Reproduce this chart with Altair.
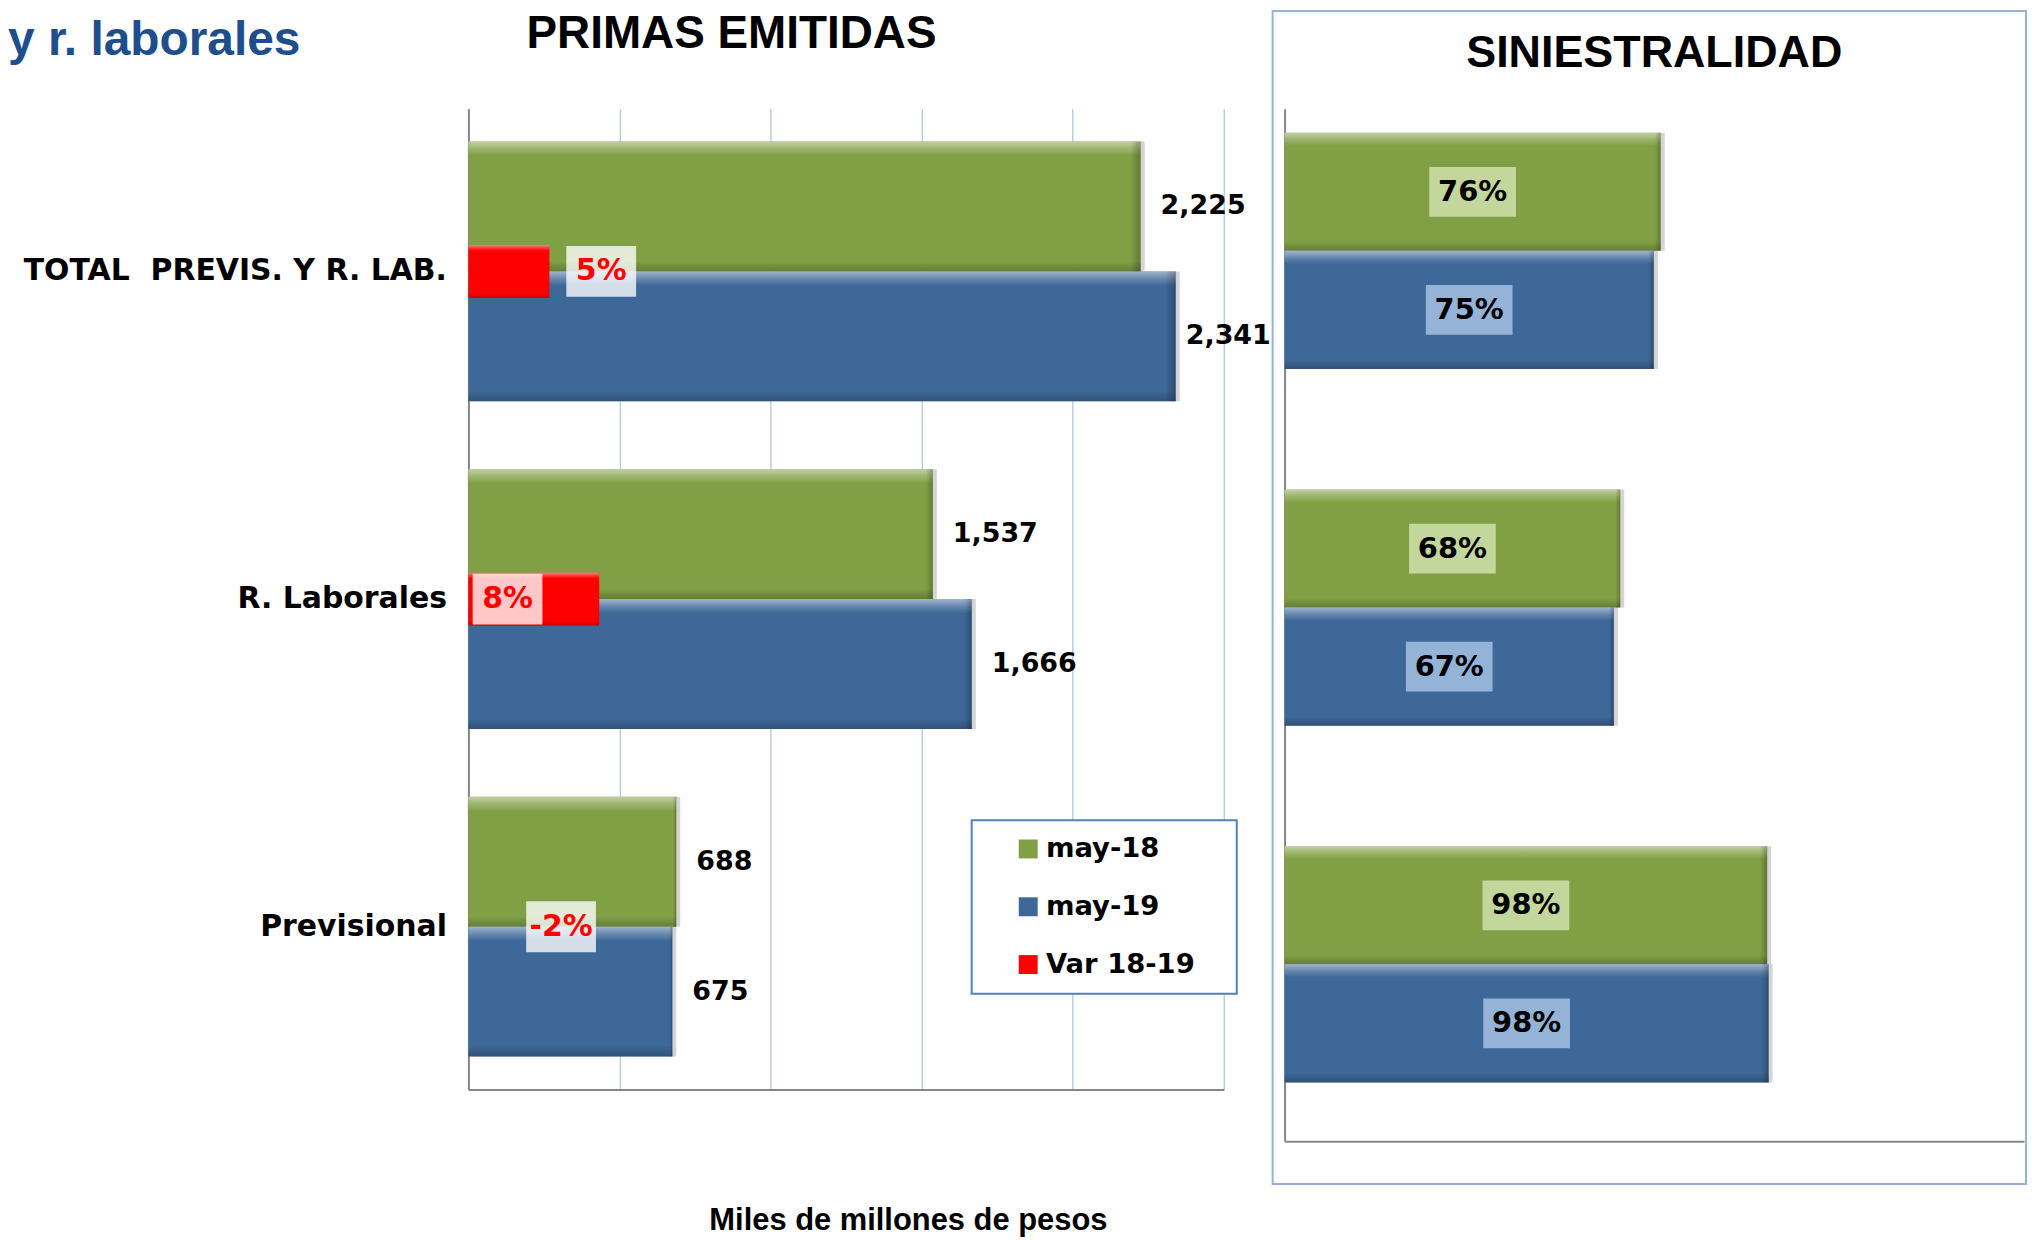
import altair as alt
import pandas as pd

# ---------------- data ----------------
header = "y r. laborales"
title_left = "PRIMAS EMITIDAS"
title_right = "SINIESTRALIDAD"
x_title = "Miles de millones de pesos"

categories = ["TOTAL\u00a0 PREVIS. Y R. LAB.", "R. Laborales", "Previsional"]
series = ["may-18", "may-19"]
var_name = "Var 18-19"
primas_may18 = [2225, 1537, 688]
primas_may19 = [2341, 1666, 675]
var_18_19 = [0.052, 0.084, -0.019]
sin_may18 = [0.763, 0.681, 0.979]
sin_may19 = [0.749, 0.668, 0.982]
grid_ticks = [0, 500, 1000, 1500, 2000, 2500]

primas = pd.DataFrame(
    [{"cat": c, "serie": "may-18", "value": v} for c, v in zip(categories, primas_may18)]
    + [{"cat": c, "serie": "may-19", "value": v} for c, v in zip(categories, primas_may19)]
)
var_df = pd.DataFrame([{"cat": c, "serie": var_name, "value": v} for c, v in zip(categories, var_18_19)])
sin = pd.DataFrame(
    [{"cat": c, "serie": "may-18", "value": v} for c, v in zip(categories, sin_may18)]
    + [{"cat": c, "serie": "may-19", "value": v} for c, v in zip(categories, sin_may19)]
)

# ---------------- styles ----------------
GREEN = "#81A045"
BLUE = "#3E6898"
RED = "#FF0000"
DV = "DejaVu Sans"
LIB = "Liberation Sans"
AXIS_GRAY = "#868686"

color_scale = alt.Scale(domain=series + [var_name], range=[GREEN, BLUE, RED])

bevel_v = alt.LinearGradient(
    gradient="linear", x1=0, x2=0, y1=0, y2=1,
    stops=[
        alt.GradientStop(offset=0, color="rgba(255,255,255,0.5)"),
        alt.GradientStop(offset=0.06, color="rgba(255,255,255,0.2)"),
        alt.GradientStop(offset=0.11, color="rgba(255,255,255,0)"),
        alt.GradientStop(offset=0.92, color="rgba(0,0,0,0)"),
        alt.GradientStop(offset=1, color="rgba(0,0,0,0.22)"),
    ],
)
bevel_h = alt.LinearGradient(
    gradient="linear", x1=0, x2=1, y1=0, y2=0,
    stops=[
        alt.GradientStop(offset=0, color="rgba(0,0,0,0)"),
        alt.GradientStop(offset=0.985, color="rgba(0,0,0,0)"),
        alt.GradientStop(offset=1, color="rgba(0,0,0,0.25)"),
    ],
)
SHADOW = dict(fill="rgba(0,0,0,0.17)", strokeWidth=0, yOffset=10, y2Offset=10, xOffset=4, x2Offset=4)


def box_path(w, h, dx=0):
    return f"M{dx - w / 2},{-h / 2}H{dx + w / 2}V{h / 2}H{dx - w / 2}Z"


pct_label = "replace(format(datum.value, '.0%'), '\u2212', '-')"

# ---------------- left panel: PRIMAS EMITIDAS ----------------
y_left = alt.Y(
    "cat:N", sort=categories,
    scale=alt.Scale(paddingInner=0.207, paddingOuter=0.1),
    axis=alt.Axis(title=None, labelFont=DV, labelFontSize=30, labelFontWeight="bold",
                  labelColor="black", labelPadding=22, ticks=False, labelLimit=700,
                  domainColor=AXIS_GRAY, domainWidth=2),
)
yoff = alt.YOffset("serie:N", sort=series, scale=alt.Scale(paddingInner=0, paddingOuter=0))
x_left = alt.X(
    "value:Q", scale=alt.Scale(domain=[0, 2500], nice=False),
    axis=alt.Axis(values=grid_ticks, labels=False, ticks=False, grid=True,
                  gridColor="#B9CDE5", gridWidth=1.5, domainColor=AXIS_GRAY, domainWidth=2,
                  title=x_title, titleFont=LIB, titleFontSize=31, titleFontWeight="bold",
                  titleColor="black", titleX=441, titleY=132, titleAlign="center",
                  titleBaseline="middle"),
)

legend = alt.Legend(
    orient="none", legendX=505, legendY=714, direction="vertical",
    title="\u00a0", titleOrient="right", titleFontSize=2, titlePadding=27,
    strokeColor="#4F81BD", fillColor="white", padding=15,
    symbolType="square", symbolSize=361, symbolStrokeWidth=0, symbolOffset=28,
    labelFont=DV, labelFontSize=27.5, labelFontWeight="bold", labelColor="black",
    labelOffset=4, rowPadding=29, labelLimit=400,
)

base_left = alt.Chart(primas)
shadow_left = base_left.mark_bar(**SHADOW).encode(x=x_left, y=y_left, yOffset=yoff)
bars_left = base_left.mark_bar(stroke=None).encode(
    x=x_left, y=y_left, yOffset=yoff,
    color=alt.Color("serie:N", scale=color_scale, legend=legend),
)
bev_left = base_left.mark_bar(fill=bevel_v, strokeWidth=0).encode(x=x_left, y=y_left, yOffset=yoff)
bevh_left = base_left.mark_bar(fill=bevel_h, strokeWidth=0).encode(x=x_left, y=y_left, yOffset=yoff)
label_style = dict(align="left", baseline="middle", font=DV, fontSize=27, fontWeight="bold", color="black")
labels_left = base_left.transform_filter("datum.value < 2300").mark_text(dx=20, **label_style).encode(
    x=x_left, y=y_left, yOffset=yoff, text=alt.Text("value:Q", format=",.0f"))
labels_left_big = base_left.transform_filter("datum.value >= 2300").mark_text(dx=10, **label_style).encode(
    x=x_left, y=y_left, yOffset=yoff, text=alt.Text("value:Q", format=",.0f"))

header_text = alt.Chart(pd.DataFrame({"t": [header]})).mark_text(
    align="left", baseline="alphabetic", font=LIB, fontSize=48, fontWeight="bold", color="#1F4E8C"
).encode(x=alt.value(-462), y=alt.value(-54), text="t:N")

main_group = alt.layer(shadow_left, bars_left, bev_left, bevh_left, labels_left, labels_left_big, header_text)

# red variation bars on their own (hidden) scale
x_red = alt.X("value:Q", scale=alt.Scale(domain=[0, 0.485], nice=False, clamp=True), axis=None)
y_red = alt.Y("cat:N", sort=categories)
base_red = alt.Chart(var_df).transform_calculate(lbl=pct_label)
red_bars = base_red.mark_bar(height=53).encode(
    x=x_red, y=y_red, color=alt.Color("serie:N", scale=color_scale, legend=legend)
)
red_bev = base_red.mark_bar(height=53, fill=bevel_v, strokeWidth=0).encode(x=x_red, y=y_red)

red_label_dx = {categories[0]: 52, categories[1]: -92, categories[2]: 93}
red_layers = [red_bars, red_bev]
for cat, dx in red_label_dx.items():
    sub = base_red.transform_filter(alt.datum.cat == cat)
    red_layers.append(
        sub.mark_point(shape=box_path(70, 51, dx), size=4, filled=True, fill="white",
                       fillOpacity=0.78, strokeOpacity=0, opacity=1)
        .encode(x=x_red, y=y_red)
    )
    red_layers.append(
        sub.mark_text(align="center", baseline="middle", dx=dx, font=DV, fontSize=30,
                      fontWeight="bold", color=RED)
        .encode(x=x_red, y=y_red, text="lbl:N")
    )
red_group = alt.layer(*red_layers)

left = alt.layer(main_group, red_group).resolve_scale(x="independent").properties(
    width=758, height=984,
    title=alt.TitleParams(title_left, font=LIB, fontSize=46, fontWeight="bold", color="black",
                          anchor="middle", offset=-77, dx=-115, baseline="alphabetic"),
)

# ---------------- right panel: SINIESTRALIDAD ----------------
y_right = alt.Y(
    "cat:N", sort=categories,
    scale=alt.Scale(paddingInner=0.338, paddingOuter=0.116, align=0.29),
    axis=alt.Axis(title=None, labels=False, ticks=False, domainColor=AXIS_GRAY, domainWidth=2),
)
x_axis_right = alt.Axis(title=None, labels=False, ticks=False, grid=False,
                        domainColor=AXIS_GRAY, domainWidth=2)
x_right = alt.X("value:Q", scale=alt.Scale(domain=[0, 1.5], nice=False), axis=x_axis_right)
x_mid = alt.X("mid:Q", scale=alt.Scale(domain=[0, 1.5], nice=False), axis=x_axis_right)
yoff_r = alt.YOffset("serie:N", sort=series, scale=alt.Scale(paddingInner=0, paddingOuter=0))

base_right = alt.Chart(sin)
shadow_right = base_right.mark_bar(**SHADOW).encode(x=x_right, y=y_right, yOffset=yoff_r)
bars_right = base_right.mark_bar().encode(
    x=x_right, y=y_right, yOffset=yoff_r,
    color=alt.Color("serie:N", scale=color_scale, legend=None),
)
bev_right = base_right.mark_bar(fill=bevel_v, strokeWidth=0).encode(x=x_right, y=y_right, yOffset=yoff_r)
bevh_right = base_right.mark_bar(fill=bevel_h, strokeWidth=0).encode(x=x_right, y=y_right, yOffset=yoff_r)
mid_base = base_right.transform_calculate(mid="datum.value / 2")
boxes_right = mid_base.mark_point(
    shape=box_path(87, 50), size=4, filled=True, opacity=1, strokeOpacity=0
).encode(
    x=x_mid, y=y_right, yOffset=yoff_r,
    color=alt.condition("datum.serie == 'may-18'", alt.value("#C3D69B"), alt.value("#95B3D7")),
)
texts_right = mid_base.mark_text(
    align="center", baseline="middle", font=DV, fontSize=29, fontWeight="bold", color="black"
).encode(x=x_mid, y=y_right, yOffset=yoff_r, text=alt.Text("value:Q", format=".0%"))

frame = alt.Chart(pd.DataFrame({"k": [0]})).mark_rect(
    fillOpacity=0, stroke="#95B3D7", strokeWidth=2
).encode(x=alt.value(-12), x2=alt.value(744), y=alt.value(-98), y2=alt.value(1079))

right = alt.layer(frame, shadow_right, bars_right, bev_right, bevh_right, boxes_right, texts_right).properties(
    width=742, height=1036,
    title=alt.TitleParams(title_right, font=LIB, fontSize=45, fontWeight="bold", color="black",
                          anchor="middle", offset=-102, baseline="alphabetic"),
)

chart = (
    alt.hconcat(left, right, spacing=0)
    .resolve_scale(color="independent", y="independent", yOffset="independent")
    .resolve_legend(color="independent")
    .properties(padding=0, background="white")
    .configure_view(stroke=None)
    .configure_legend(strokeWidth=2)
)

chart.save("out.html", embed_options={"renderer": "svg", "actions": False})
